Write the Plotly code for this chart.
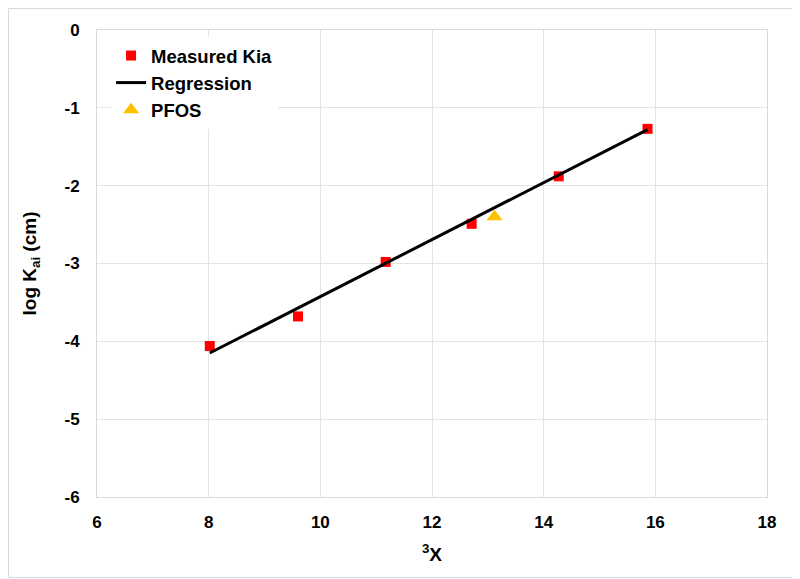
import plotly.graph_objects as go

# Data
measured_x = [8.02, 9.60, 11.17, 12.71, 14.27, 15.86]
measured_y = [-4.06, -3.68, -2.98, -2.49, -1.88, -1.27]
regression_x = [8.02, 15.86]
regression_y = [-4.15, -1.28]
pfos_x = [13.12]
pfos_y = [-2.40]

x_tickvals = [6, 8, 10, 12, 14, 16, 18]
x_ticktext = ["6", "8", "10", "12", "14", "16", "18"]
y_tickvals = [0, -1, -2, -3, -4, -5, -6]
y_ticktext = ["0", "-1", "-2", "-3", "-4", "-5", "-6"]

font_family = "Liberation Sans, Arial, sans-serif"

fig = go.Figure()
fig.add_trace(go.Scatter(x=measured_x, y=measured_y, mode="markers", name="Measured Kia",
                         marker=dict(symbol="square", size=10, color="#ff0000")))
fig.add_trace(go.Scatter(x=regression_x, y=regression_y, mode="lines", name="Regression",
                         line=dict(color="black", width=3)))
fig.add_trace(go.Scatter(x=pfos_x, y=pfos_y, mode="markers", name="PFOS",
                         marker=dict(symbol="triangle-up", size=14, color="#ffc000")))

axis_common = dict(showgrid=True, gridcolor="#e4e4e4", gridwidth=1, zeroline=False,
                   showline=True, linecolor="#d9d9d9", linewidth=1, mirror=True,
                   tickfont=dict(family=font_family, size=17, color="black", weight="bold"),
                   ticks="")

fig.update_layout(
    width=800, height=579,
    margin=dict(l=89, r=41, t=22, b=90),
    paper_bgcolor="white", plot_bgcolor="white",
    font=dict(family=font_family, color="black"),
    xaxis=dict(range=[6, 18], tickvals=x_tickvals, ticktext=x_ticktext, ticklabelstandoff=10,
               **axis_common,
               title=dict(text="<sup>3</sup>X", font=dict(family=font_family, size=19, weight="bold"), standoff=16)),
    yaxis=dict(range=[-6, 0], tickvals=y_tickvals, ticktext=y_ticktext, ticklabelstandoff=13,
               **axis_common,
               title=dict(text="log K<sub>ai</sub> (cm)", font=dict(family=font_family, size=19, weight="bold"), standoff=22)),
    legend=dict(x=0.021, y=0.985, xanchor="left", yanchor="top", bgcolor="white",
                font=dict(family=font_family, size=18.5, color="black", weight="bold"),
                tracegroupgap=0, itemwidth=30),
    showlegend=True,
    shapes=[dict(type="rect", xref="paper", yref="paper", x0=-0.1321, x1=1.047, y0=-0.1724, y1=1.046,
                 line=dict(color="#d9d9d9", width=1), layer="below")],
)

fig.write_html("out.html")
